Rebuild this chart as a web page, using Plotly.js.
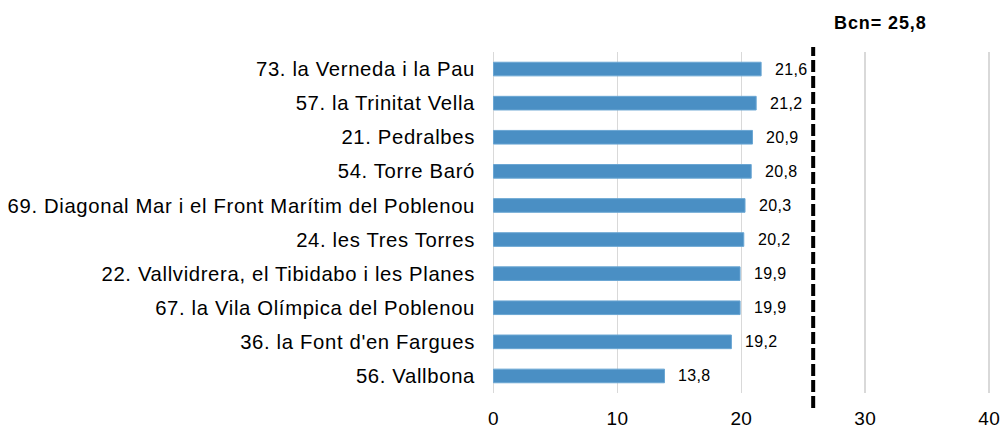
<!DOCTYPE html>
<html>
<head>
<meta charset="utf-8">
<script src="https://cdn.plot.ly/plotly-3.0.1.min.js"></script>
<style>
html,body{margin:0;padding:0;background:#fff;}
#chart{width:1003px;height:432px;}
#chart .ytick text{letter-spacing:0.65px;}
#chart .xtick text{letter-spacing:0.3px;}
</style>
</head>
<body>
<div id="chart"></div>
<script>
const categories = [
  "73. la Verneda i la Pau",
  "57. la Trinitat Vella",
  "21. Pedralbes",
  "54. Torre Baró",
  "69. Diagonal Mar i el Front Marítim del Poblenou",
  "24. les Tres Torres",
  "22. Vallvidrera, el Tibidabo i les Planes",
  "67. la Vila Olímpica del Poblenou",
  "36. la Font d'en Fargues",
  "56. Vallbona"
];
const values = [21.6, 21.2, 20.9, 20.8, 20.3, 20.2, 19.9, 19.9, 19.2, 13.8];
const bcnValue = 25.8;
const bcnLabel = "Bcn= 25,8";
const xTicks = [0, 10, 20, 30, 40];

const fmt = v => v.toFixed(1).replace('.', ',');
const FONT = 'Liberation Sans, Arial, sans-serif';

const trace = {
  type: 'bar',
  orientation: 'h',
  x: values,
  y: categories,
  marker: {color: '#4a8fc4', line: {color: '#6aa6d3', width: 1}},
  hoverinfo: 'none'
};

const annotations = values.map((v, i) => ({
  x: v, y: categories[i], xref: 'x', yref: 'y',
  text: '<span style="letter-spacing:0.3px">' + fmt(v) + '</span>',
  showarrow: false, xanchor: 'left', yanchor: 'middle',
  xshift: 12, yshift: 0,
  font: {family: FONT, size: 16, color: '#000'}
}));
annotations.push({
  x: bcnValue, y: 1.086, xref: 'x', yref: 'paper',
  text: '<span style="letter-spacing:0.9px"><b>' + bcnLabel + '</b></span>',
  showarrow: false, xanchor: 'left', yanchor: 'middle',
  xshift: 19,
  font: {family: FONT, size: 18, color: '#000'}
});

const layout = {
  width: 1003, height: 432,
  margin: {l: 492, r: 12, t: 52, b: 39, pad: 0},
  paper_bgcolor: '#fff', plot_bgcolor: '#fff',
  showlegend: false,
  bargap: 0.6,
  font: {family: FONT, color: '#000'},
  xaxis: {
    range: [-0.12, 40.15], tickvals: xTicks, ticktext: xTicks.map(String),
    showgrid: true, gridcolor: '#d9d9d9', gridwidth: 1.5,
    zeroline: false, showline: false, ticks: '',
    ticklabelstandoff: 12,
    tickfont: {size: 19, color: '#000'}, fixedrange: true
  },
  yaxis: {
    autorange: 'reversed', showgrid: false, zeroline: false, showline: false,
    ticks: '', ticklabelstandoff: 16,
    tickfont: {size: 20.3, color: '#000'}, fixedrange: true
  },
  shapes: [{
    type: 'line', xref: 'x', yref: 'paper',
    x0: bcnValue, x1: bcnValue, y0: -0.044, y1: 1.015,
    line: {color: '#000', width: 4, dash: '12px,4px'}
  }],
  annotations: annotations
};

Plotly.newPlot('chart', [trace], layout, {displayModeBar: false, staticPlot: true});
</script>
</body>
</html>
